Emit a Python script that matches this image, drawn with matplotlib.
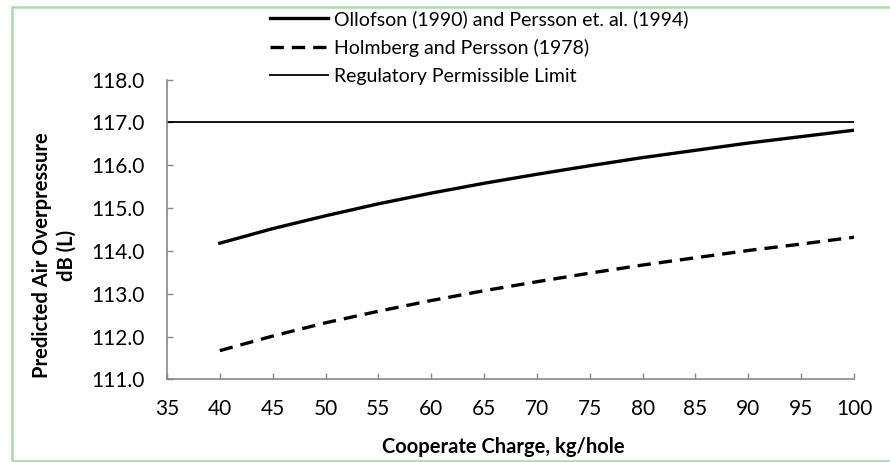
import matplotlib
matplotlib.use("Agg")
import matplotlib.pyplot as plt
from matplotlib.patches import Rectangle

plt.rcParams['font.family'] = ['Lato', 'DejaVu Sans']

# charge per hole (kg/hole)
charge = [40, 45, 50, 55, 60, 65, 70, 75, 80, 85, 90, 95, 100]
# predicted air overpressure, dB (L)
ollofson_persson = [114.18, 114.52, 114.82, 115.10, 115.35, 115.58, 115.79,
                    115.99, 116.18, 116.35, 116.52, 116.67, 116.82]
holmberg_persson = [111.67, 112.01, 112.32, 112.59, 112.84, 113.07, 113.28,
                    113.48, 113.67, 113.84, 114.01, 114.16, 114.32]
limit_x = [35, 100]
limit_y = [117.0, 117.0]

labels = ["Ollofson (1990) and Persson et. al. (1994)",
          "Holmberg and Persson (1978)",
          "Regulatory Permissible Limit"]
x_ticks = list(range(35, 101, 5))
y_ticks = [111, 112, 113, 114, 115, 116, 117, 118]

fig = plt.figure(figsize=(8.9, 4.62), dpi=100)
ax = fig.add_axes([0.1876, 0.179, 0.772, 0.6485])

ax.plot(charge, ollofson_persson, color='black', lw=2.4, label=labels[0])
ax.plot(charge, holmberg_persson, color='black', lw=2.4, dashes=(4, 2.4),
        label=labels[1])
ax.plot(limit_x, limit_y, color='black', lw=1.3, label=labels[2])

ax.set_xlim(35, 100)
ax.set_ylim(111, 118)
ax.set_xticks(x_ticks)
ax.set_yticks(y_ticks)
ax.set_yticklabels([f"{v:.1f}" for v in y_ticks])

for side in ['top', 'right']:
    ax.spines[side].set_visible(False)
for side in ['left', 'bottom']:
    ax.spines[side].set_color('#888888')
    ax.spines[side].set_linewidth(1.2)

ax.tick_params(axis='both', direction='in', length=4.5, width=1.0,
               color='#888888', labelsize=15, labelcolor='black')
ax.tick_params(axis='y', pad=16)
ax.tick_params(axis='x', pad=14)

fig.text(0.0607, 0.448, "Predicted Air Overpressure\ndB (L)", rotation=90,
         ha='center', va='center', multialignment='center',
         fontsize=14.5, fontweight='bold', linespacing=1.3)
fig.text(0.566, 0.032, "Cooperate Charge, kg/hole", ha='center',
         va='center', fontsize=14.5, fontweight='bold')

fig.legend(loc='upper left', bbox_to_anchor=(0.303, 0.978), frameon=False,
           fontsize=14, handlelength=3.0, handletextpad=0.3,
           labelspacing=0.55, borderpad=0, borderaxespad=0)

# light green chart border
fig.patches.append(Rectangle((12 / 890, 1 / 462), 1.0, 454 / 462,
                             transform=fig.transFigure, fill=False,
                             edgecolor='#a8dcaa', lw=1.8))

fig.savefig("out.png", dpi=100)
